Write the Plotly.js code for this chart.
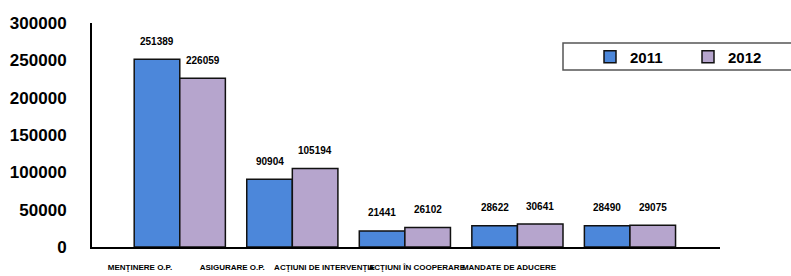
<!DOCTYPE html>
<html>
<head>
<meta charset="utf-8">
<script src="https://cdn.plot.ly/plotly-3.0.1.min.js"></script>
<style>html,body{margin:0;padding:0;background:#fff;}#chart{width:791px;height:276px;}</style>
</head>
<body>
<div id="chart"></div>
<script>
var categories = ["MENŢINERE O.P.", "ASIGURARE O.P.", "ACŢIUNI DE INTERVENŢIE", "ACŢIUNI ÎN COOPERARE", "MANDATE DE ADUCERE"];
var values2011 = [251389, 90904, 21441, 28622, 28490];
var values2012 = [226059, 105194, 26102, 30641, 29075];
var seriesNames = ["2011", "2012"];
var yTicks = [0, 50000, 100000, 150000, 200000, 250000, 300000];

var FONT = "Liberation Sans, Arial, sans-serif";
var BARGAP = 0.19;
var half = (1 - BARGAP) / 4;

var traces = [
  {type: "bar", name: seriesNames[0], x: categories, y: values2011,
   marker: {color: "#4c87da", line: {color: "#111", width: 1.5}}, hoverinfo: "skip"},
  {type: "bar", name: seriesNames[1], x: categories, y: values2012,
   marker: {color: "#b6a5cd", line: {color: "#111", width: 1.5}}, hoverinfo: "skip"},
  {type: "scatter", mode: "markers", x: categories, y: categories.map(function(){return 0;}),
   xaxis: "x2", marker: {opacity: 0}, showlegend: false, hoverinfo: "skip"}
];

var annotations = [];
[values2011, values2012].forEach(function(vals, s) {
  vals.forEach(function(v, i) {
    annotations.push({x: i + (s === 0 ? -half : half), y: v, xref: "x", yref: "y",
      text: String(v), showarrow: false, yanchor: "middle", yshift: 18,
      font: {family: FONT, size: 10, color: "#000", weight: "bold"}});
  });
});

var layout = {
  width: 791, height: 276,
  margin: {l: 92, r: 71, t: 23, b: 29, autoexpand: false},
  paper_bgcolor: "#fff", plot_bgcolor: "#fff",
  barmode: "group", bargap: BARGAP, bargroupgap: 0,
  font: {family: FONT, color: "#000"},
  xaxis: {type: "category", range: [-0.78, 4.8], showline: true, linecolor: "#000", linewidth: 2,
    showticklabels: false, ticks: "", showgrid: false, zeroline: false, fixedrange: true},
  xaxis2: {type: "category", overlaying: "x", side: "bottom", range: [-0.52, 6.287],
    showline: false, ticks: "", showgrid: false, zeroline: false, ticklabelstandoff: 14,
    tickfont: {family: FONT, size: 8, color: "#000", weight: "bold"}, tickangle: 0},
  yaxis: {range: [0, 300000], tickvals: yTicks, ticktext: yTicks.map(String), showline: true,
    linecolor: "#000", linewidth: 2, ticks: "", showgrid: false, zeroline: false,
    ticklabelstandoff: 20, tickfont: {family: FONT, size: 17, color: "#000", weight: "bold"}},
  showlegend: true,
  legend: {orientation: "h", x: 0.793, xanchor: "left", y: 0.848, yanchor: "middle",
    borderwidth: 0, bgcolor: "rgba(0,0,0,0)", entrywidth: 53,
    font: {family: FONT, size: 15, color: "#000", weight: "bold"}},
  shapes: [{type: "rect", xref: "paper", yref: "paper", x0: 0.75, x1: 1.115, y0: 0.79, y1: 0.911,
    line: {color: "#555", width: 1.5}, fillcolor: "rgba(0,0,0,0)"}],
  annotations: annotations
};

Plotly.newPlot("chart", traces, layout, {displayModeBar: false, staticPlot: true});
</script>
</body>
</html>
